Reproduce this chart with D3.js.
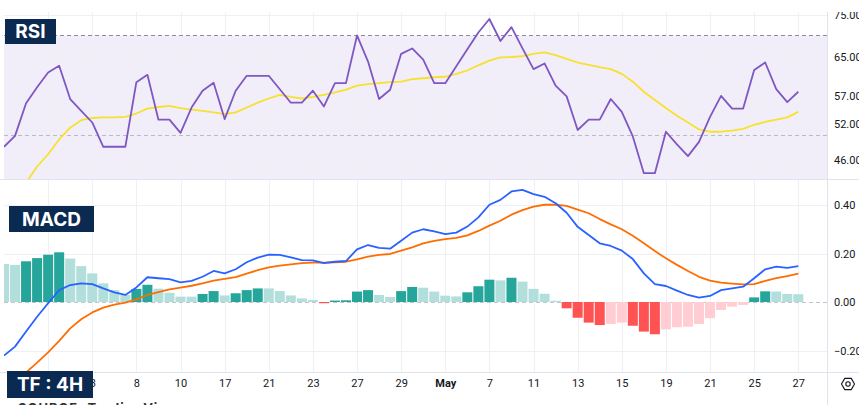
<!DOCTYPE html>
<html>
<head>
<meta charset="utf-8">
<script src="https://cdn.jsdelivr.net/npm/d3@7"></script>
<style>
	html, body { margin: 0; padding: 0; background: #fff; }
	svg { display: block; }
</style>
</head>
<body>
<svg id="chart" width="859" height="405"></svg>
<script>
	// values, one per 4H bar
	var rsi = [48.1, 49.9, 55.7, 58.8, 61.8, 63.2, 56.5, 54.3, 52.2, 48.1, 48.1, 48.1, 59.8, 61.3, 52.7, 52.7,
		50.4, 54.9, 58.1, 59.7, 52.8, 58.1, 61.1, 61.1, 61.1, 58.4, 55.8, 55.8, 58.1, 55.1, 59.6, 59.6,
		70.0, 64.1, 56.5, 58.3, 65.8, 67.0, 64.5, 59.6, 59.6, 63.1, 66.8, 70.7, 74.0, 68.7, 72.0, 67.0,
		62.5, 63.7, 59.1, 57.0, 50.9, 52.7, 52.7, 56.5, 54.1, 49.8, 44.0, 44.0, 50.6, 48.5, 46.6, 48.9,
		53.2, 57.1, 54.7, 54.7, 62.3, 63.9, 58.4, 55.9, 57.9];
	var rsiMA = [38.5, 40.5, 42.6, 45.0, 46.9, 49.3, 51.3, 52.6, 53.0, 53.1, 53.1, 53.2, 53.8, 54.7, 55.0, 55.2,
		54.8, 54.5, 54.3, 54.0, 53.7, 54.0, 54.9, 55.8, 56.6, 57.3, 56.9, 56.6, 56.9, 57.3, 57.8, 58.3,
		59.1, 59.4, 59.6, 59.8, 59.9, 60.4, 60.6, 60.8, 60.9, 61.5, 62.2, 63.3, 64.3, 65.0, 65.1, 65.3,
		65.8, 66.1, 65.5, 64.7, 63.9, 63.4, 62.9, 62.5, 61.5, 59.9, 57.9, 56.3, 54.8, 53.4, 52.2, 51.0,
		50.6, 50.6, 50.8, 51.1, 51.8, 52.3, 52.7, 53.1, 54.1];
	var macd = [-0.221, -0.184, -0.122, -0.061, -0.005, 0.049, 0.070, 0.077, 0.074, 0.056, 0.040, 0.029, 0.060, 0.102, 0.098, 0.094,
		0.081, 0.087, 0.104, 0.128, 0.118, 0.135, 0.164, 0.183, 0.195, 0.194, 0.184, 0.173, 0.172, 0.160, 0.166, 0.169,
		0.217, 0.235, 0.223, 0.220, 0.253, 0.286, 0.300, 0.291, 0.280, 0.286, 0.311, 0.349, 0.401, 0.421, 0.456, 0.462,
		0.445, 0.434, 0.407, 0.368, 0.310, 0.276, 0.242, 0.231, 0.212, 0.177, 0.118, 0.074, 0.066, 0.047, 0.029, 0.018,
		0.025, 0.049, 0.056, 0.063, 0.098, 0.135, 0.146, 0.141, 0.148];
	var signal = [-0.370, -0.330, -0.290, -0.250, -0.208, -0.160, -0.109, -0.071, -0.043, -0.023, -0.011, -0.003, 0.011, 0.029, 0.041, 0.052,
		0.059, 0.067, 0.077, 0.088, 0.095, 0.103, 0.117, 0.131, 0.143, 0.150, 0.155, 0.160, 0.162, 0.162, 0.164, 0.166,
		0.176, 0.187, 0.194, 0.198, 0.212, 0.225, 0.242, 0.252, 0.259, 0.264, 0.275, 0.293, 0.315, 0.335, 0.360, 0.379,
		0.393, 0.401, 0.401, 0.396, 0.381, 0.366, 0.342, 0.320, 0.300, 0.273, 0.242, 0.210, 0.180, 0.153, 0.128, 0.104,
		0.088, 0.080, 0.076, 0.073, 0.074, 0.087, 0.098, 0.107, 0.117];
	var hist = [0.157, 0.153, 0.168, 0.181, 0.195, 0.205, 0.179, 0.148, 0.118, 0.077, 0.049, 0.029, 0.054, 0.071, 0.055, 0.038,
		0.022, 0.022, 0.033, 0.045, 0.027, 0.036, 0.049, 0.056, 0.056, 0.045, 0.027, 0.015, 0.008, -0.005, 0.006, 0.007,
		0.043, 0.049, 0.029, 0.021, 0.045, 0.062, 0.059, 0.043, 0.026, 0.023, 0.040, 0.065, 0.092, 0.089, 0.100, 0.084,
		0.054, 0.034, 0.005, -0.026, -0.065, -0.085, -0.095, -0.091, -0.085, -0.098, -0.122, -0.133, -0.113, -0.104, -0.102, -0.091,
		-0.067, -0.033, -0.019, -0.012, 0.019, 0.044, 0.043, 0.033, 0.032];

	var tickIndex = [8, 12, 16, 20, 24, 28, 32, 36, 40, 44, 48, 52, 56, 60, 64, 68, 72];
	var tickLabels = ['3', '8', '10', '17', '21', '23', '27', '29', 'May', '7', '11', '13', '15', '19', '21', '25', '27'];
	var gridIndex = [4].concat(tickIndex);
	var rsiTicks = [75, 65, 57, 52, 46];
	var macdTicks = [0.4, 0.2, 0, -0.2];

	var svg = d3.select('#chart'),
		width = +svg.attr('width'),
		plotLeft = 4, plotRight = 827,
		rsiTop = 12, rsiBottom = 179,
		macdTop = 180, macdBottom = 372;

	var x = d3.scaleLinear().domain([0, rsi.length - 1]).range([4, 798.3]);
	var yR = d3.scaleLog().domain([46, 75]).range([160, 15]);
	var yM = d3.scaleLinear().domain([-0.2, 0.4]).range([350.5, 205]);

	var defs = svg.append('defs');
	defs.append('clipPath').attr('id', 'clipRsi').append('rect')
		.attr('x', plotLeft).attr('y', rsiTop).attr('width', plotRight - plotLeft).attr('height', rsiBottom - rsiTop);
	defs.append('clipPath').attr('id', 'clipMacd').append('rect')
		.attr('x', plotLeft).attr('y', macdTop).attr('width', plotRight - plotLeft).attr('height', macdBottom - macdTop);
	// used inside the translated axis group, so x starts at 0
	defs.append('clipPath').attr('id', 'clipAxis').append('rect')
		.attr('x', 0).attr('y', rsiTop).attr('width', width - plotRight).attr('height', 400);

	// RSI band 70..30
	svg.append('rect')
		.attr('clip-path', 'url(#clipRsi)')
		.attr('x', plotLeft).attr('width', plotRight - plotLeft)
		.attr('y', yR(70)).attr('height', yR(30) - yR(70))
		.attr('fill', 'rgba(126,87,194,0.1)');

	// grid
	var grid = svg.append('g').attr('stroke', '#eef0f5').attr('stroke-width', 1);
	grid.selectAll('line.v').data(gridIndex).enter().append('line')
		.attr('x1', function(d) { return Math.round(x(d)) + 0.5; })
		.attr('x2', function(d) { return Math.round(x(d)) + 0.5; })
		.attr('y1', rsiTop).attr('y2', macdBottom);
	grid.selectAll('line.hr').data(rsiTicks).enter().append('line')
		.attr('x1', plotLeft).attr('x2', plotRight)
		.attr('y1', function(d) { return Math.round(yR(d)) + 0.5; })
		.attr('y2', function(d) { return Math.round(yR(d)) + 0.5; });
	grid.selectAll('line.hm').data(macdTicks.filter(function(d) { return d !== 0; })).enter().append('line')
		.attr('x1', plotLeft).attr('x2', plotRight)
		.attr('y1', function(d) { return Math.round(yM(d)) + 0.5; })
		.attr('y2', function(d) { return Math.round(yM(d)) + 0.5; });

	// RSI band lines
	svg.append('line')
		.attr('x1', plotLeft).attr('x2', plotRight)
		.attr('y1', Math.round(yR(70)) + 0.5).attr('y2', Math.round(yR(70)) + 0.5)
		.attr('stroke', '#8a8d98').attr('stroke-dasharray', '4,3');
	svg.append('line')
		.attr('x1', plotLeft).attr('x2', plotRight)
		.attr('y1', Math.round(yR(50)) + 0.5).attr('y2', Math.round(yR(50)) + 0.5)
		.attr('stroke', '#b9bbc3').attr('stroke-dasharray', '4,3');
	svg.append('line')
		.attr('x1', plotLeft).attr('x2', plotRight)
		.attr('y1', Math.round(yM(0)) + 0.5).attr('y2', Math.round(yM(0)) + 0.5)
		.attr('stroke', '#c3c5cc').attr('stroke-dasharray', '4,3');

	// pane borders
	var borders = svg.append('g').attr('stroke', '#e0e3eb').attr('stroke-width', 1);
	borders.append('line').attr('x1', 0).attr('x2', width).attr('y1', rsiBottom + 0.5).attr('y2', rsiBottom + 0.5);
	borders.append('line').attr('x1', 0).attr('x2', width).attr('y1', macdBottom + 0.5).attr('y2', macdBottom + 0.5);
	borders.append('line').attr('x1', plotRight + 0.5).attr('x2', plotRight + 0.5).attr('y1', rsiTop).attr('y2', 405);

	// RSI lines
	var gR = svg.append('g').attr('clip-path', 'url(#clipRsi)');
	var lineR = d3.line().x(function(d, i) { return x(i); }).y(function(d) { return yR(d); });
	gR.append('path').datum(rsiMA)
		.attr('fill', 'none').attr('stroke', '#f7e12e').attr('stroke-width', 1.8)
		.attr('stroke-linejoin', 'round').attr('d', lineR);
	gR.append('path').datum(rsi)
		.attr('fill', 'none').attr('stroke', '#7e57c2').attr('stroke-width', 1.8)
		.attr('stroke-linejoin', 'round').attr('d', lineR);

	// MACD histogram + lines
	var gM = svg.append('g').attr('clip-path', 'url(#clipMacd)');
	var barW = 10;
	gM.selectAll('rect.bar').data(hist).enter().append('rect')
		.attr('x', function(d, i) { return x(i) - barW / 2; })
		.attr('width', barW)
		.attr('y', function(d) { return Math.min(yM(d), yM(0)); })
		.attr('height', function(d) { return Math.abs(yM(d) - yM(0)); })
		.attr('fill', function(d, i) {
			var prev = i > 0 ? hist[i - 1] : d;
			if (d >= 0) return d > prev ? '#26a69a' : '#b2dfdb';
			return d < prev ? '#ff5252' : '#ffcdd2';
		});
	var lineM = d3.line().x(function(d, i) { return x(i); }).y(function(d) { return yM(d); });
	gM.append('path').datum(signal)
		.attr('fill', 'none').attr('stroke', '#ff6d00').attr('stroke-width', 1.8)
		.attr('stroke-linejoin', 'round').attr('d', lineM);
	gM.append('path').datum(macd)
		.attr('fill', 'none').attr('stroke', '#2962ff').attr('stroke-width', 1.8)
		.attr('stroke-linejoin', 'round').attr('d', lineM);

	// axes
	var fmt = d3.format('.2f');
	var axR = svg.append('g')
		.attr('clip-path', 'url(#clipAxis)')
		.attr('transform', 'translate(' + plotRight + ',0)')
		.call(d3.axisRight(yR).tickValues(rsiTicks).tickFormat(fmt).tickSize(0).tickPadding(7));
	var axM = svg.append('g')
		.attr('transform', 'translate(' + plotRight + ',0)')
		.call(d3.axisRight(yM).tickValues(macdTicks).tickFormat(fmt).tickSize(0).tickPadding(7));
	var axX = svg.append('g')
		.attr('transform', 'translate(0,' + macdBottom + ')')
		.call(d3.axisBottom(x).tickValues(tickIndex)
			.tickFormat(function(d, i) { return tickLabels[i]; })
			.tickSize(0).tickPadding(7));
	[axR, axM, axX].forEach(function(ax) {
		ax.select('.domain').remove();
		ax.selectAll('text')
			.attr('fill', '#131722')
			.style('font-family', 'Roboto, "Liberation Sans", sans-serif')
			.style('font-size', '11px');
	});
	axX.selectAll('text').filter(function(d, i) { return tickLabels[i] === 'May'; })
		.style('font-weight', 'bold');

	// settings icon
	var hex = d3.range(6).map(function(k) {
		var a = Math.PI / 3 * k;
		return [848 + 6.5 * Math.cos(a), 384 + 6.5 * Math.sin(a)];
	});
	svg.append('path')
		.attr('d', d3.line()(hex) + 'Z')
		.attr('fill', 'none').attr('stroke', '#131722').attr('stroke-width', 1.1);
	svg.append('circle').attr('cx', 848).attr('cy', 384).attr('r', 2.2)
		.attr('fill', 'none').attr('stroke', '#131722').attr('stroke-width', 1.1);

	// label boxes
	function labelBox(x0, y0, w, h, txt) {
		svg.append('rect').attr('x', x0).attr('y', y0).attr('width', w).attr('height', h).attr('fill', '#0b2a52');
		svg.append('text')
			.attr('x', x0 + w / 2).attr('y', y0 + h / 2)
			.attr('dy', '0.36em')
			.attr('text-anchor', 'middle')
			.attr('fill', '#fff')
			.style('font-family', 'Inter, "Open Sans", sans-serif')
			.style('font-weight', 'bold')
			.style('font-size', '19px')
			.text(txt);
	}
	labelBox(5, 19, 51, 25, 'RSI');
	labelBox(9, 206, 85, 26, 'MACD');
	labelBox(7, 371, 86, 27, 'TF : 4H');

	svg.append('text')
		.attr('x', 18).attr('y', 413)
		.attr('fill', '#333')
		.style('font-family', 'Inter, sans-serif')
		.style('font-weight', 'bold')
		.style('font-size', '13px')
		.style('letter-spacing', '1px')
		.text('SOURCE: TradingView');
</script>
</body>
</html>
